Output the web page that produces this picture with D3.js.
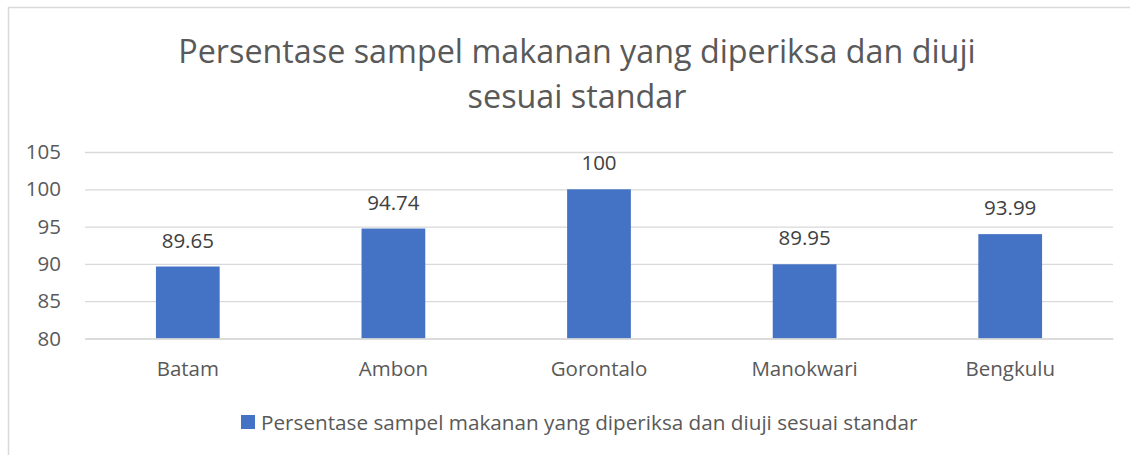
<!DOCTYPE html>
<html>
<head>
<meta charset="utf-8">
<script src="https://cdn.jsdelivr.net/npm/d3@7"></script>
<style>
  html, body { margin: 0; padding: 0; background: #fff; }
  svg { display: block; font-family: "Open Sans", sans-serif; }
</style>
</head>
<body>
<svg id="chart" width="1130" height="455"></svg>
<script>
// Data
const categories = ["Batam", "Ambon", "Gorontalo", "Manokwari", "Bengkulu"];
const values = [89.65, 94.74, 100, 89.95, 93.99];
const valueLabels = ["89.65", "94.74", "100", "89.95", "93.99"];
const yTicks = [80, 85, 90, 95, 100, 105];
const titleLines = ["Persentase sampel makanan yang diperiksa dan diuji", "sesuai standar"];
const seriesName = "Persentase sampel makanan yang diperiksa dan diuji sesuai standar";

const svg = d3.select("#chart");
const W = 1130, H = 455;
const plot = { left: 85, right: 1113, top: 152, bottom: 338.5 };
const barColor = "#4472C4";
const textGrey = "#595959";
const labelSize = 20.5;

// Chart area border
svg.append("rect")
  .attr("x", 8.5).attr("y", 7.5)
  .attr("width", W + 20).attr("height", H + 20)
  .attr("fill", "#fff").attr("stroke", "#d9d9d9").attr("stroke-width", 1.5);

// Title
svg.append("g").selectAll("text").data(titleLines).join("text")
  .attr("x", 577).attr("y", (d, i) => 63 + i * 45)
  .attr("text-anchor", "middle")
  .attr("font-size", 32.3)
  .attr("fill", textGrey)
  .text(d => d);

const x = d3.scaleBand().domain(categories).range([plot.left, plot.right]).paddingInner(0.69).paddingOuter(0.345);
const y = d3.scaleLinear().domain([80, 105]).range([plot.bottom, plot.top]);

// Gridlines + y labels
const yAxis = d3.axisLeft(y).tickValues(yTicks).tickSize(-(plot.right - plot.left)).tickPadding(24);
const gy = svg.append("g").attr("transform", `translate(${plot.left},0)`).call(yAxis);
gy.select(".domain").remove();
gy.selectAll(".tick line").attr("stroke", "#d9d9d9").attr("stroke-width", 1.3);
gy.selectAll(".tick text").attr("fill", textGrey).attr("font-size", labelSize).attr("font-family", "'Open Sans', sans-serif");

// Bars
svg.append("g").selectAll("rect").data(values).join("rect")
  .attr("x", (d, i) => x(categories[i]))
  .attr("width", x.bandwidth())
  .attr("y", d => y(d))
  .attr("height", d => y(80) - y(d))
  .attr("fill", barColor);

// Value labels
svg.append("g").selectAll("text").data(values).join("text")
  .attr("x", (d, i) => x(categories[i]) + x.bandwidth() / 2)
  .attr("y", d => y(d) - 19)
  .attr("text-anchor", "middle")
  .attr("font-size", labelSize)
  .attr("fill", "#404040")
  .text((d, i) => valueLabels[i]);

// X axis labels
const xAxis = d3.axisBottom(x).tickSize(0).tickPadding(23);
const gx = svg.append("g").attr("transform", `translate(0,${plot.bottom})`).call(xAxis);
gx.select(".domain").attr("stroke", "#d9d9d9").attr("stroke-width", 1.3);
gx.selectAll(".tick text").attr("fill", textGrey).attr("font-size", labelSize).attr("font-family", "'Open Sans', sans-serif");

// Legend
const lg = svg.append("g");
lg.append("rect").attr("x", 241).attr("y", 415).attr("width", 14).attr("height", 14).attr("fill", barColor);
lg.append("text").attr("x", 261).attr("y", 430)
  .attr("font-size", 20.7).attr("fill", textGrey).text(seriesName);
</script>
</body>
</html>
